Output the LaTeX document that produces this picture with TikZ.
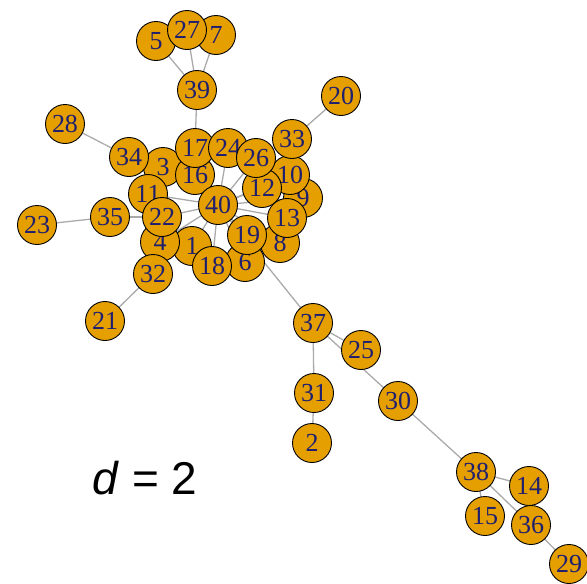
\documentclass[tikz,border=0pt]{standalone}
\usepackage{fontspec}
\setmainfont{Liberation Serif}
\newfontfamily\labsans{Liberation Sans}
\definecolor{vfill}{HTML}{E69F00}
\definecolor{vlab}{HTML}{1F1F70}
\definecolor{edgegray}{HTML}{AAAAAA}
\begin{document}
\begin{tikzpicture}[x=1pt,y=-1pt,
  vert/.style={circle,draw=black,line width=0.9pt,fill=vfill,minimum size=39pt,inner sep=0pt,
    text=vlab,font=\fontsize{26}{26}\selectfont},
  edge/.style={draw=edgegray,line width=1.3pt}]
\useasboundingbox (0,0) rectangle (587,584);
% coordinates
\coordinate (p1) at (192,246);
\coordinate (p2) at (312,443);
\coordinate (p3) at (163,167);
\coordinate (p4) at (160,242);
\coordinate (p5) at (156,41);
\coordinate (p6) at (245,262);
\coordinate (p7) at (216,35);
\coordinate (p8) at (280,243);
\coordinate (p9) at (303,198);
\coordinate (p10) at (290,175);
\coordinate (p11) at (148,194);
\coordinate (p12) at (262,188);
\coordinate (p13) at (287,218);
\coordinate (p14) at (529,486);
\coordinate (p15) at (485,516);
\coordinate (p16) at (195,175);
\coordinate (p17) at (195,148);
\coordinate (p18) at (212,266);
\coordinate (p19) at (247,235);
\coordinate (p20) at (341,96);
\coordinate (p21) at (105,321);
\coordinate (p22) at (162,217);
\coordinate (p23) at (37,225);
\coordinate (p24) at (228,148);
\coordinate (p25) at (361,350);
\coordinate (p26) at (256,158);
\coordinate (p27) at (187,30);
\coordinate (p28) at (65,124);
\coordinate (p29) at (569,564);
\coordinate (p30) at (398,401);
\coordinate (p31) at (314,393);
\coordinate (p32) at (153,274);
\coordinate (p33) at (292,139);
\coordinate (p34) at (129,157);
\coordinate (p35) at (110,217);
\coordinate (p36) at (531,525);
\coordinate (p37) at (313,323);
\coordinate (p38) at (476,472);
\coordinate (p39) at (197,90);
\coordinate (p40) at (218,205);
% edges
\foreach \a/\b in {39/5,39/27,39/7,39/17,28/34,34/3,23/35,35/22,21/32,32/4,20/33,33/26,
  40/1,40/3,40/4,40/6,40/8,40/9,40/10,40/11,40/12,40/13,40/16,40/17,40/18,40/19,40/22,40/24,40/26,
  37/40,37/25,37/30,37/31,31/2,30/38,38/14,38/15,38/36,36/29}
  \draw[edge] (p\a) -- (p\b);
% vertices
\foreach \i in {1,...,40}
  \node[vert] (v\i) at (p\i) {\i};
\node[font=\labsans\fontsize{46}{46}\selectfont,anchor=base] (dlab) at (145,494) {\textit{d} = 2};
\end{tikzpicture}
\end{document}
